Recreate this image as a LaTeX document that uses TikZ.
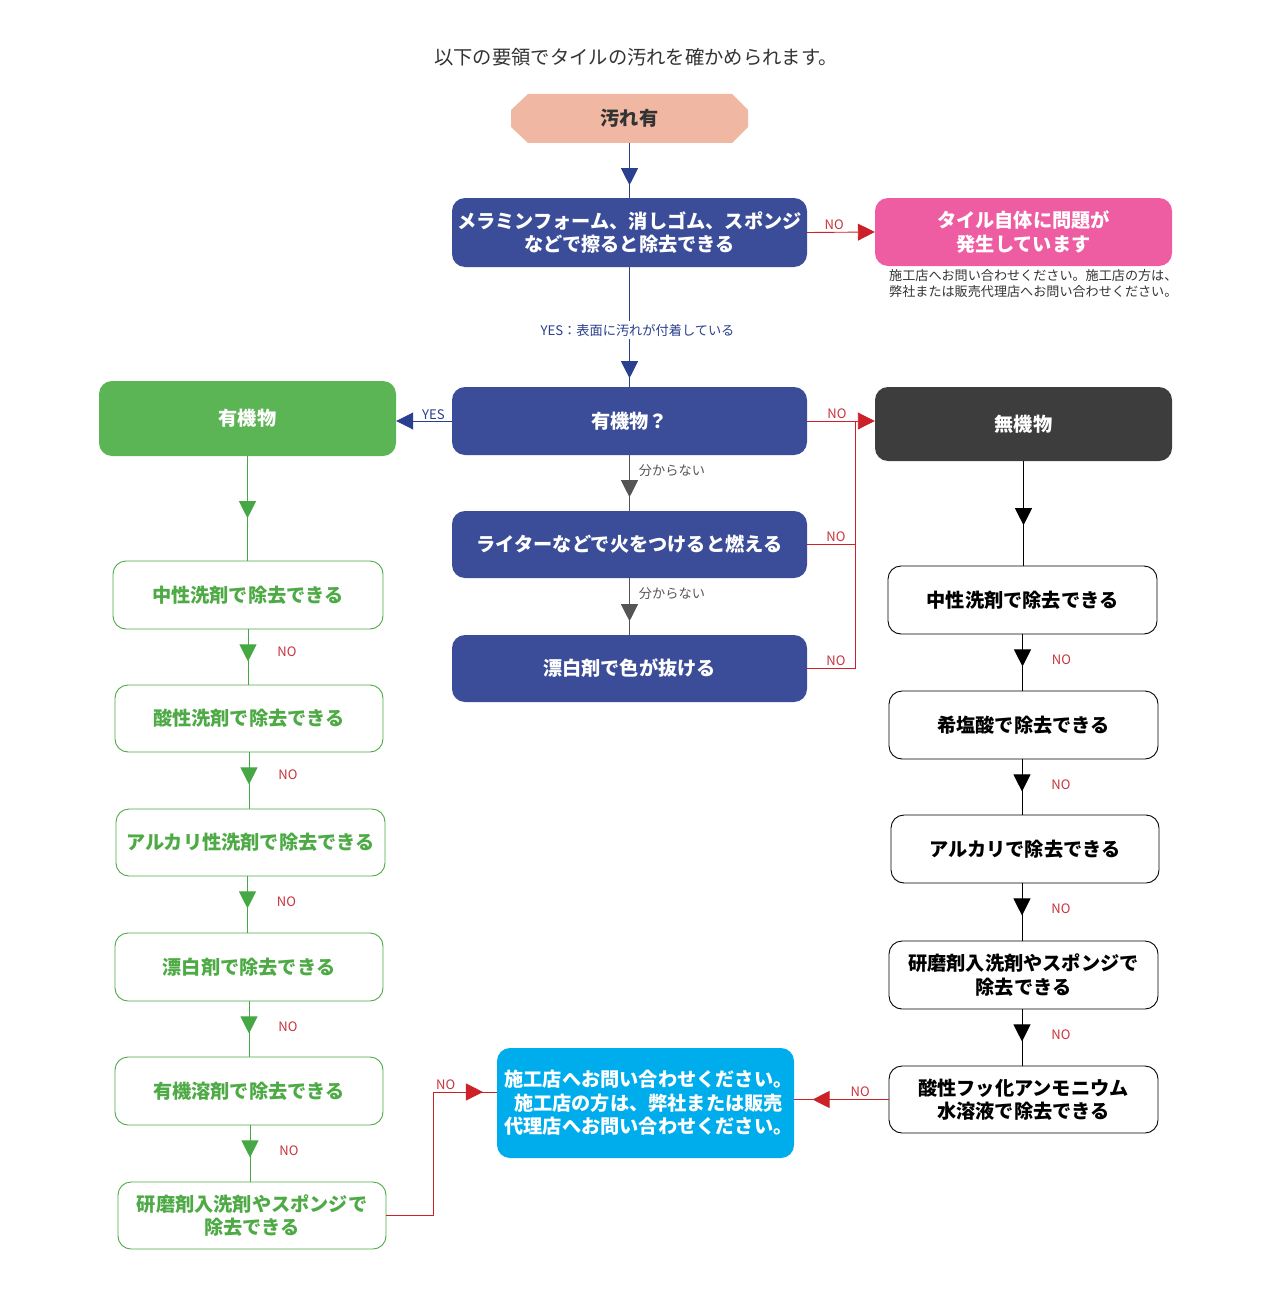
\documentclass[tikz,border=0pt]{standalone}
\usepackage{fontspec}
\setmainfont{Noto Sans CJK JP}
\usetikzlibrary{arrows.meta,decorations.markings}
\definecolor{cblue}{HTML}{3B4D98}
\definecolor{cbline}{HTML}{2B3F8F}
\definecolor{cpink}{HTML}{EE5CA1}
\definecolor{cgreen}{HTML}{5CB554}
\definecolor{cgline}{HTML}{45A845}
\definecolor{cgtext}{HTML}{4DAA45}
\definecolor{cdark}{HTML}{3D3D3D}
\definecolor{ccyan}{HTML}{00ADEC}
\definecolor{csalmon}{HTML}{F0B8A2}
\definecolor{cred}{HTML}{CC2128}
\definecolor{cnotext}{HTML}{C8323C}
\definecolor{cgray}{HTML}{555555}
\definecolor{ctext}{HTML}{333333}
\begin{document}
\begin{tikzpicture}[x=1pt,y=-1pt,
  box/.style={rounded corners=13pt, inner sep=0pt, align=center,
    font=\fontsize{19.2}{23.5}\selectfont\bfseries, text=white},
  bluebox/.style={box, fill=cblue, minimum width=355pt},
  greenbox/.style={box, draw=cgtext, line width=0.9pt, fill=white, text=cgtext, minimum width=268pt, minimum height=68pt},
  blackbox/.style={box, draw=black, line width=0.9pt, fill=white, text=black, minimum width=269pt, minimum height=68pt},
  lbl/.style={font=\fontsize{13.2}{15}\selectfont, inner sep=1pt},
  nolbl/.style={font=\fontsize{13}{15}\selectfont, inner sep=1pt, text=cnotext},
  tipat/.style={postaction={decorate}, decoration={markings,
    mark=at position #1 with {\arrow{Triangle[width=17pt,length=17pt]}}}},
  endtip/.style={-{Triangle[width=17pt,length=17pt]}},
  ln/.style={line width=0.9pt}
]
\useasboundingbox (0,0) rectangle (1276,1300);

% title
\node[font=\fontsize{19.3}{21}\selectfont, text=ctext] (title) at (636,57) {以下の要領でタイルの汚れを確かめられます。};

% start shape
\path[fill=csalmon] (511,110) -- (528,94) -- (732,94) -- (748,110) -- (748,127) -- (732,143) -- (528,143) -- (511,127) -- cycle;
\node[box, text=ctext, minimum width=237pt, minimum height=49pt] (dirty) at (629.5,118.5) {汚れ有};

% center column
\node[bluebox, minimum height=69pt] (mel) at (629.5,232.5) {メラミンフォーム、消しゴム、スポンジ\\などで擦ると除去できる};
\node[box, fill=cpink, minimum width=297pt, minimum height=68pt] (tile) at (1023.5,232) {タイル自体に問題が\\発生しています};
\node[anchor=north west, align=left, text=ctext, font=\fontsize{13.1}{16}\selectfont, inner sep=0pt] (note) at (889,269) {施工店へお問い合わせください。施工店の方は、\\弊社または販売代理店へお問い合わせください。};

\node[bluebox, minimum height=68pt] (yuki) at (629.5,421) {有機物？};
\node[box, fill=cgreen, minimum width=297pt, minimum height=75pt] (org) at (247.5,418.5) {有機物};
\node[box, fill=cdark, minimum width=297pt, minimum height=74pt] (muki) at (1023.5,424) {無機物};
\node[bluebox, minimum height=67pt] (lighter) at (629.5,544.5) {ライターなどで火をつけると燃える};
\node[bluebox, minimum height=67pt] (bleach) at (629.5,668.5) {漂白剤で色が抜ける};

% left column
\node[greenbox, minimum width=270pt] (L1) at (248,595) {中性洗剤で除去できる};
\node[greenbox, minimum height=67pt] (L2) at (249,718.5) {酸性洗剤で除去できる};
\node[greenbox, minimum width=269pt, minimum height=67pt] (L3) at (250.5,842.5) {アルカリ性洗剤で除去できる};
\node[greenbox] (L4) at (249,967) {漂白剤で除去できる};
\node[greenbox] (L5) at (249,1091) {有機溶剤で除去できる};
\node[greenbox, minimum height=67pt] (L6) at (252,1215.5) {研磨剤入洗剤やスポンジで\\除去できる};

% right column
\node[blackbox] (R1) at (1022.5,600) {中性洗剤で除去できる};
\node[blackbox] (R2) at (1023.5,725) {希塩酸で除去できる};
\node[blackbox, minimum width=268pt] (R3) at (1025,849) {アルカリで除去できる};
\node[blackbox] (R4) at (1023.5,975) {研磨剤入洗剤やスポンジで\\除去できる};
\node[blackbox, minimum height=67pt] (R5) at (1023.5,1099.5) {酸性フッ化アンモニウム\\水溶液で除去できる};

% contact box
\node[box, fill=ccyan, minimum width=297pt, minimum height=110pt] (shiko) at (645.5,1103) {\hspace*{6pt}施工店へお問い合わせください。\\\hspace*{6pt}施工店の方は、弊社または販売\\\hspace*{6pt}代理店へお問い合わせください。};

% junction coordinates
\coordinate (j) at (855,421);
\coordinate (c1) at (433,1092);

% connectors
\draw[ln, cbline, tipat=42pt] (dirty.south) -- (mel.north);
\draw[ln, cred, endtip] (mel.east) -- node[nolbl, above=1pt, pos=0.4] {NO} (tile.west);
\draw[ln, cbline, tipat=111pt] (mel.south) -- node[lbl, text=cbline, fill=white, pos=0.525, inner sep=3pt, xshift=8pt] {YES：表面に汚れが付着している} (yuki.north);
\draw[ln, cbline, endtip] (yuki.west) -- node[lbl, text=cbline, above=0pt, pos=0.33] {YES} (yuki.west -| org.east);
\draw[ln, cred, endtip] (yuki.east) -- node[nolbl, above=1pt, pos=0.44] {NO} (yuki.east -| muki.west);
\draw[ln, cred] (lighter.east) -| node[nolbl, above=1pt, pos=0.3] {NO} (j);
\draw[ln, cred] (bleach.east) -| node[nolbl, above=1pt, pos=0.3] {NO} (j);
\draw[ln, cgray, tipat=42pt] (yuki.south) -- node[lbl, text=cgray, right=8pt, pos=0.28] {分からない} (lighter.north);
\draw[ln, cgray, tipat=43pt] (lighter.south) -- node[lbl, text=cgray, right=8pt, pos=0.28] {分からない} (bleach.north);

% left chain
\draw[ln, cgline, tipat=62pt] (org.south) -- (org.south |- L1.north);
\draw[ln, cgline, tipat=32pt] (L1.south) -- node[nolbl, right=28pt, pos=0.4] {NO} (L1.south |- L2.north);
\draw[ln, cgline, tipat=32pt] (L2.south) -- node[nolbl, right=28pt, pos=0.4] {NO} (L2.south |- L3.north);
\draw[ln, cgline, tipat=32pt] ([xshift=-3pt]L3.south) -- node[nolbl, right=28pt, pos=0.45] {NO} ([xshift=-3pt]L3.south |- L4.north);
\draw[ln, cgline, tipat=32pt] (L4.south) -- node[nolbl, right=28pt, pos=0.45] {NO} (L4.south |- L5.north);
\draw[ln, cgline, tipat=32pt] ([xshift=1pt]L5.south) -- node[nolbl, right=28pt, pos=0.45] {NO} ([xshift=1pt]L5.south |- L6.north);
\draw[ln, cred, tipat=220pt] (L6.east) -| (c1) -- node[nolbl, above=1pt, pos=0.2] {NO} (c1 -| shiko.west);

% right chain
\draw[ln, black, tipat=64pt] (muki.south) -- (muki.south |- R1.north);
\draw[ln, black, tipat=32pt] (R1.south) -- node[nolbl, right=28pt, pos=0.45] {NO} (R1.south |- R2.north);
\draw[ln, black, tipat=32pt] ([xshift=-1.5pt]R2.south) -- node[nolbl, right=28pt, pos=0.45] {NO} ([xshift=-1.5pt]R2.south |- R3.north);
\draw[ln, black, tipat=32pt] ([xshift=-3pt]R3.south) -- node[nolbl, right=28pt, pos=0.45] {NO} ([xshift=-3pt]R3.south |- R4.north);
\draw[ln, black, tipat=32pt] ([xshift=-1.5pt]R4.south) -- node[nolbl, right=28pt, pos=0.45] {NO} ([xshift=-1.5pt]R4.south |- R5.north);
\draw[ln, cred, tipat=76pt] (R5.west) -- node[nolbl, above=1pt, pos=0.3] {NO} (R5.west -| shiko.east);
\end{tikzpicture}
\end{document}
